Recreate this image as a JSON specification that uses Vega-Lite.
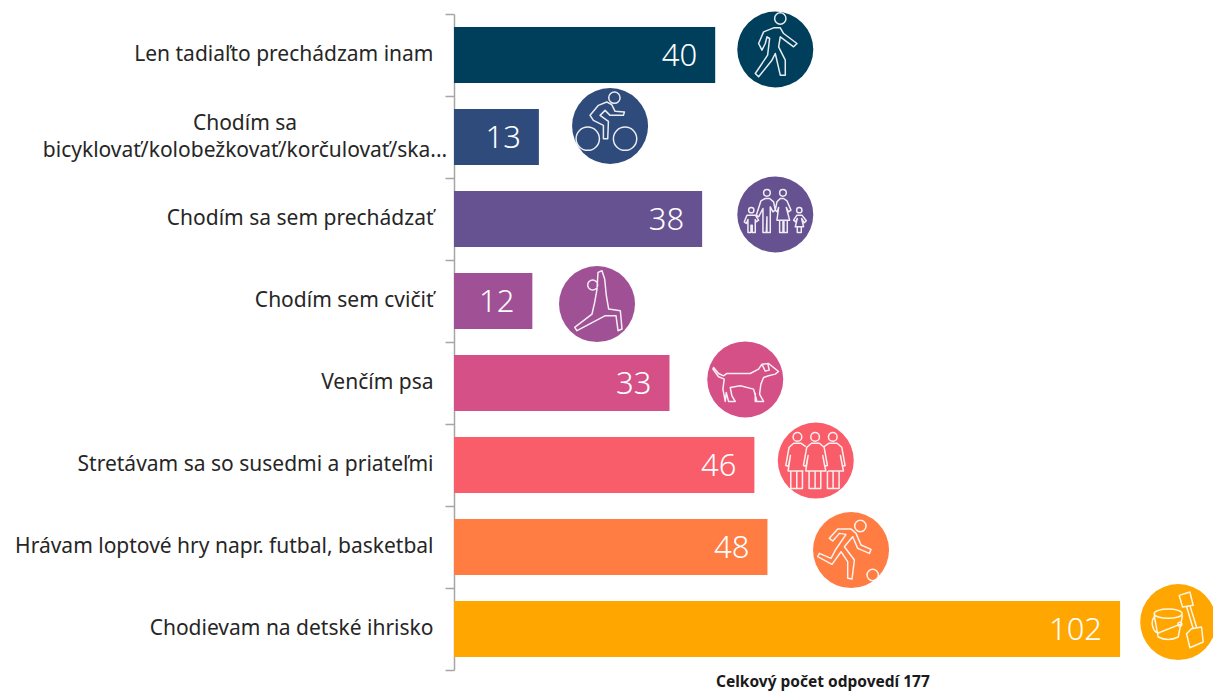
{
"$schema":"https://vega.github.io/schema/vega-lite/v6.json",
"width":759,"height":656,
"autosize":{"type":"none"},
"padding":{"left":454,"top":14,"right":0,"bottom":23},
"background":"white",
"config":{"view":{"stroke":null},"font":"Noto Sans"},
"title":{"text":"Celkový počet odpovedí 177","orient":"bottom","anchor":"start","frame":"group","dx":262,"offset":4,"fontSize":15.5,"fontWeight":"bold","color":"#1a1a1a","font":"Noto Sans"},
"data":{"values":[
{"kategoria":"Len tadiaľto prechádzam inam","pocet":40,"ikonaX":49.2,"ikonaRiadok":0.433},
{"kategoria":"Chodím sa bicyklovať/kolobežkovať/korčulovať/ska...","pocet":13,"ikonaX":23.9,"ikonaRiadok":1.366},
{"kategoria":"Chodím sa sem prechádzať","pocet":38,"ikonaX":49.2,"ikonaRiadok":2.445},
{"kategoria":"Chodím sem cvičiť","pocet":12,"ikonaX":21.9,"ikonaRiadok":3.537},
{"kategoria":"Venčím psa","pocet":33,"ikonaX":44.6,"ikonaRiadok":4.457},
{"kategoria":"Stretávam sa so susedmi a priateľmi","pocet":46,"ikonaX":55.4,"ikonaRiadok":5.446},
{"kategoria":"Hrávam loptové hry napr. futbal, basketbal","pocet":48,"ikonaX":60.8,"ikonaRiadok":6.537},
{"kategoria":"Chodievam na detské ihrisko","pocet":102,"ikonaX":110.9,"ikonaRiadok":7.415}
]},
"resolve":{"scale":{"y":"independent"}},
"layer":[
{"mark":{"type":"bar"},
 "encoding":{
  "y":{"field":"kategoria","type":"nominal","sort":null,"scale":{"paddingInner":0.317,"paddingOuter":0.158},
   "axis":{"title":null,"domain":false,"ticks":false,"labelPadding":21,"labelFontSize":21,"labelColor":"#262626","labelLimit":600,"offset":0,
   "labelExpr":"indexof(datum.label,'bicyklova')>=0 ? '' : datum.label"}},
  "x":{"field":"pocet","type":"quantitative","scale":{"domain":[0,116.23],"nice":false,"zero":true},"axis":null},
  "color":{"field":"kategoria","type":"nominal","sort":null,"legend":null,
   "scale":{"domain":["Len tadiaľto prechádzam inam","Chodím sa bicyklovať/kolobežkovať/korčulovať/ska...","Chodím sa sem prechádzať","Chodím sem cvičiť","Venčím psa","Stretávam sa so susedmi a priateľmi","Hrávam loptové hry napr. futbal, basketbal","Chodievam na detské ihrisko"],
   "range":["#003f5c","#2f4b7c","#665191","#a05195","#d45087","#f95d6a","#ff7c43","#ffa600"]}}
 }},
{"mark":{"type":"text","align":"right","baseline":"middle","dx":-18,"dy":1.5,"fontSize":31,"fontWeight":300,"color":"white"},
 "encoding":{
  "y":{"field":"kategoria","type":"nominal","sort":null,"scale":{"paddingInner":0.317,"paddingOuter":0.158},"axis":null},
  "x":{"field":"pocet","type":"quantitative","axis":null},
  "text":{"field":"pocet","type":"quantitative"}
 }},
{"transform":[{"filter":"indexof(datum.kategoria,'bicyklova')>=0"}],
 "mark":{"type":"text","align":"center","baseline":"middle","fontSize":21,"color":"#262626","dx":-209,"dy":-13,"lineHeight":27,"text":["Chodím sa","bicyklovať/kolobežkovať/korčulovať/ska..."]},
 "encoding":{
  "y":{"field":"kategoria","type":"nominal","sort":null,"scale":{"domain":["Len tadiaľto prechádzam inam","Chodím sa bicyklovať/kolobežkovať/korčulovať/ska...","Chodím sa sem prechádzať","Chodím sem cvičiť","Venčím psa","Stretávam sa so susedmi a priateľmi","Hrávam loptové hry napr. futbal, basketbal","Chodievam na detské ihrisko"],"paddingInner":0.317,"paddingOuter":0.158},"axis":null},
  "x":{"datum":0,"type":"quantitative","axis":null}
 }},
{"mark":{"type":"point","filled":true,"size":5776,"opacity":1},
 "encoding":{
  "x":{"field":"ikonaX","type":"quantitative","axis":null},
  "y":{"field":"ikonaRiadok","type":"quantitative","scale":{"domain":[0,8],"reverse":true,"nice":false,"zero":false},
   "axis":{"orient":"left","title":null,"values":[0,1,2,3,4,5,6,7,8],"labels":false,"grid":false,"domainColor":"#a6a6a6","domainWidth":1.5,"tickColor":"#a6a6a6","tickWidth":1.5,"tickSize":9,"offset":0}},
  "color":{"field":"kategoria","type":"nominal","sort":null,"legend":null}
 }},
{"mark":{"type":"point","filled":false,"size":0.4444,"stroke":"white","strokeWidth":1.5,"opacity":0.9,"strokeJoin":"round"},
 "encoding":{
  "x":{"field":"ikonaX","type":"quantitative","axis":null},
  "y":{"field":"ikonaRiadok","type":"quantitative","scale":{"domain":[0,8],"reverse":true,"nice":false,"zero":false},"axis":null},
  "shape":{"field":"kategoria","type":"nominal","sort":null,"legend":null,"scale":{
   "domain":["Len tadiaľto prechádzam inam","Chodím sa bicyklovať/kolobežkovať/korčulovať/ska...","Chodím sa sem prechádzať","Chodím sem cvičiť","Venčím psa","Stretávam sa so susedmi a priateľmi","Hrávam loptové hry napr. futbal, basketbal","Chodievam na detské ihrisko"],
   "range":[
"M-2,-93a17,17 0 1,0 34,0a17,17 0 1,0 -34,0ZM-5,-65L-35,-53L-50,-18L-40,2L-30,-18L-25,-38L-17,-33L-23,17L-60,72L-50,82L-10,32L0,12L15,77L30,77L30,32L10,-8L15,-38L55,-8L65,-18L25,-48L15,-65Z",
"M-4,-85a17,17 0 1,0 34,0a17,17 0 1,0 -34,0ZM-102,38a35,35 0 1,0 70,0a35,35 0 1,0 -70,0ZM10,38a35,35 0 1,0 70,0a35,35 0 1,0 -70,0ZM-10,-72L-35,-62L-60,-32L-50,-17L-20,-2L-20,38L-7,38L-5,-14L-30,-32L-15,-47L0,-32L40,-32L43,-42L15,-44L5,-64Z",
"M-35,-65a10,10 0 1,0 20,0a10,10 0 1,0 -20,0ZM13,-65a10,10 0 1,0 20,0a10,10 0 1,0 -20,0ZM-80,-13a8,8 0 1,0 16,0a8,8 0 1,0 -16,0ZM64,-13a8,8 0 1,0 16,0a8,8 0 1,0 -16,0ZM-37,54L-37,-18L-50,7L-57,2L-43,-41L-30,-48L-17,-48L-5,-38L0,-13L-7,-8L-15,-23L-15,54L-25,54L-25,7L-27,54ZM15,-48L5,-38L0,-13L6,-8L10,-21L5,17L43,17L33,-21L40,-8L47,-13L35,-41L25,-48ZM13,17L13,54L23,54L23,17M26,17L26,54L36,54L36,17M-85,2L-93,22L-87,27L-82,15L-82,54L-73,54L-73,32L-69,32L-69,54L-60,54L-60,15L-57,22L-50,17L-60,2ZM65,2L55,17L61,22L66,12L60,37L85,37L79,12L87,25L93,19L80,2ZM66,37L66,54L78,54L78,37",
"M-28,-57a15,15 0 1,0 30,0a15,15 0 1,0 -30,0ZM3,-95L15,-100L23,-75L28,-25L35,15L70,20L75,75L63,80L57,35L25,35L-60,80L-67,70L-15,30L-7,-5L0,-45Z",
"M-95,-36L-80,-18L-65,-11L-55,-18L15,-18L40,-31L50,-46L70,-48L85,-36L100,-24L90,-16L70,-11L55,-6L47,14L43,44L55,66L35,66L25,29L-15,19L-45,24L-40,49L-30,66L-50,66L-57,39L-60,66L-67,29L-63,-1L-80,-8L-97,-31ZM50,-46L60,-25L72,-28L68,-46M30,40L30,66L35,66",
"M-68,-71a13,13 0 1,0 26,0a13,13 0 1,0 -26,0ZM-15,-71a13,13 0 1,0 26,0a13,13 0 1,0 -26,0ZM38,-71a13,13 0 1,0 26,0a13,13 0 1,0 -26,0ZM-13,-52L-27,-40L-37,15L-29,17L-23,-15L-30,31L30,31L21,-15L27,17L35,15L25,-40L11,-52ZM-20,31L-20,84L15,84L15,31M-2,31L-2,84M-30,-42L-45,-52L-66,-52L-80,-40L-90,15L-82,17L-76,-15L-83,31L-37,31M-75,31L-75,84L-40,84L-40,31M-57,31L-57,84M25,-42L40,-52L64,-52L78,-40L88,15L80,17L74,-15L83,31L37,31M35,31L35,84L70,84L70,31M52,31L52,84",
"M11,-72a17,17 0 1,0 34,0a17,17 0 1,0 -34,0ZM48,75a17,17 0 1,0 34,0a17,17 0 1,0 -34,0ZM-40,-63L-65,-35L-55,-27L-35,-50L-15,-47L-47,0L-60,25L-95,10L-100,20L-57,43L-30,5L-10,35L-10,85L3,87L10,30L-20,-10L5,-40L20,-5L55,10L60,-2L30,-15L15,-50L0,-63Z",
"M-72,-25a42,14 0 1,0 84,0a42,14 0 1,0 -84,0ZM-72,-20L-60,45Q-30,60 0,45L13,-20M-72,-15C-85,0 -75,30 -60,33L5,7M-1,7a6,6 0 1,0 12,0a6,6 0 1,0 -12,0ZM3,-80L35,-90L45,-50L13,-45ZM25,-47L45,20M35,-50L55,15M40,20L70,15L75,60L35,77L25,35Z"
   ]}}
 }}
]
}
